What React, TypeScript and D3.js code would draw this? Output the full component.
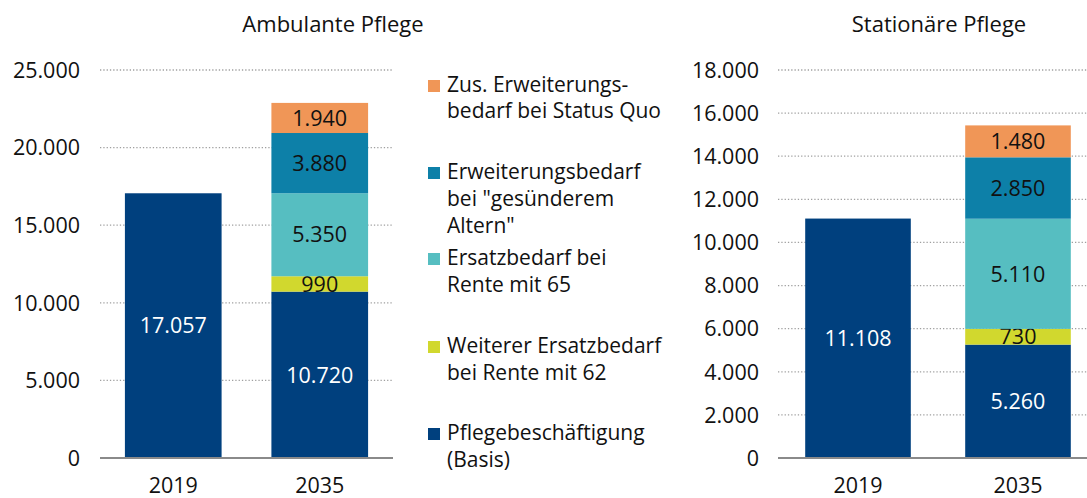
import React from "react";
import * as d3 from "d3";

const years = ["2019", "2035"];
const seriesNames = [
  "Pflegebeschäftigung (Basis)",
  "Weiterer Ersatzbedarf bei Rente mit 62",
  "Ersatzbedarf bei Rente mit 65",
  "Erweiterungsbedarf bei \"gesünderem Altern\"",
  "Zus. Erweiterungsbedarf bei Status Quo",
];
const seriesColors = ["#00407E", "#D1D82E", "#56BEC1", "#0D80A8", "#F09657"];
const seriesLabelColors = ["#ffffff", "#111111", "#111111", "#111111", "#111111"];

// values per year, per series (index aligned to seriesNames)
const ambulant2019 = [17057, 0, 0, 0, 0];
const ambulant2035 = [10720, 990, 5350, 3880, 1940];
const stationaer2019 = [11108, 0, 0, 0, 0];
const stationaer2035 = [5260, 730, 5110, 2850, 1480];

const ambulantTicks = [0, 5000, 10000, 15000, 20000, 25000];
const stationaerTicks = [0, 2000, 4000, 6000, 8000, 10000, 12000, 14000, 16000, 18000];

const legendLines = [
  ["Zus. Erweiterungs-", "bedarf bei Status Quo"],
  ["Erweiterungsbedarf", "bei \"gesünderem", "Altern\""],
  ["Ersatzbedarf bei", "Rente mit 65"],
  ["Weiterer Ersatzbedarf", "bei Rente mit 62"],
  ["Pflegebeschäftigung", "(Basis)"],
];
const legendColorIndex = [4, 3, 2, 1, 0];
const legendBaselines = [[92, 118], [179, 206, 233], [265, 292], [353, 380], [440, 467]];

const FONT = "'Open Sans', 'Noto Sans', sans-serif";
const de = d3.formatLocale({ decimal: ",", thousands: ".", grouping: [3], currency: ["", "€"] });
const fmt = de.format(",d");

type PanelProps = {
  title: string;
  titleX: number;
  data: number[][];
  ticks: number[];
  yMax: number;
  x0: number;
  x1: number;
  gridX2: number;
  labelX: number;
};

function Panel({ title, titleX, data, ticks, yMax, x0, x1, gridX2, labelX }: PanelProps) {
  const y = d3.scaleLinear().domain([0, yMax]).range([458, 70]);
  const x = d3.scaleBand().domain(years).range([x0, x1]).paddingInner(0.34).paddingOuter(0.17);
  return (
    <g>
      <text x={titleX} y={32} textAnchor="middle" fontSize={22} fill="#111">{title}</text>
      {ticks.map((t) => (
        <g key={t}>
          {t > 0 && (
            <line x1={x0} x2={gridX2} y1={y(t)} y2={y(t)} stroke="#a0a0a0" strokeWidth={1.3} strokeDasharray="1.3 2" />
          )}
          <text x={labelX} y={y(t)} dy="0.36em" textAnchor="end" fontSize={21.5} fill="#111">{fmt(t)}</text>
        </g>
      ))}
      {years.map((yr, i) => {
        const vals = data[i];
        let acc = 0;
        return (
          <g key={yr}>
            {vals.map((v, k) => {
              if (v <= 0) return null;
              const lo = acc;
              acc += v;
              const top = y(acc);
              const bot = y(lo);
              return (
                <g key={k}>
                  <rect x={x(yr)!} width={x.bandwidth()} y={top} height={bot - top} fill={seriesColors[k]} />
                  <text x={x(yr)! + x.bandwidth() / 2} y={(top + bot) / 2} dy="0.36em" textAnchor="middle" fontSize={21.5} fill={seriesLabelColors[k]}>
                    {fmt(v)}
                  </text>
                </g>
              );
            })}
            <text x={x(yr)! + x.bandwidth() / 2} y={493} textAnchor="middle" fontSize={21.5} fill="#111">{yr}</text>
          </g>
        );
      })}
      <line x1={x0} x2={gridX2} y1={y(0)} y2={y(0)} stroke="#8a8a8a" strokeWidth={2} />
    </g>
  );
}

export default function App() {
  return (
    <svg width={1087} height={498} style={{ position: "absolute", left: 0, top: 0, background: "#fff" }} fontFamily={FONT}>
      <Panel
        title="Ambulante Pflege"
        titleX={333}
        data={[ambulant2019, ambulant2035]}
        ticks={ambulantTicks}
        yMax={25000}
        x0={100}
        x1={393}
        gridX2={393}
        labelX={80}
      />
      <Panel
        title="Stationäre Pflege"
        titleX={939}
        data={[stationaer2019, stationaer2035]}
        ticks={stationaerTicks}
        yMax={18000}
        x0={778}
        x1={1098}
        gridX2={1098}
        labelX={759}
      />
      <g>
        {legendLines.map((lines, i) => (
          <g key={i}>
            <rect x={428} y={legendBaselines[i][0] - 12} width={12} height={12} fill={seriesColors[legendColorIndex[i]]} />
            {lines.map((ln, j) => (
              <text key={j} x={447} y={legendBaselines[i][j]} fontSize={21} fill="#111">{ln}</text>
            ))}
          </g>
        ))}
      </g>
    </svg>
  );
}
